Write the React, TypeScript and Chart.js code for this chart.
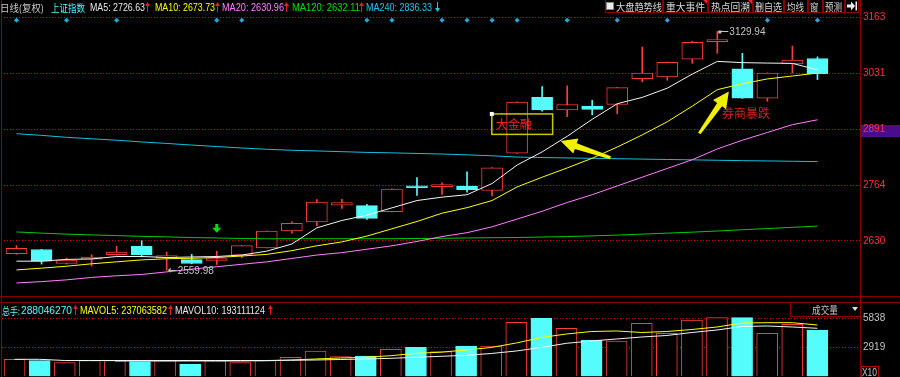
import React, { useEffect, useRef } from 'react';
import { Chart, registerables } from 'chart.js';

Chart.register(...registerables);

// ---------------- data ----------------
const CANDLE_INDEX = [0, 1, 2, 3, 4, 5, 6, 7, 8, 9, 10, 11, 12, 13, 14, 15, 16, 17, 18, 19, 20, 21, 22, 23, 24, 25, 26, 27, 28, 29, 30, 31, 32];
const OPEN = [2599.8, 2609.6, 2576.1, 2586.3, 2597.0, 2617.2, 2590.0, 2585.4, 2583.2, 2596.3, 2613.3, 2653.7, 2675.3, 2715.5, 2714.1, 2700.1, 2758.9, 2759.8, 2760.7, 2750.3, 2839.5, 2972.6, 2942.4, 2951.7, 2955.6, 3017.4, 3021.3, 3063.8, 3105.6, 3040.6, 2970.9, 3052.2, 3065.5];
const HIGH = [2618.8, 2610.0, 2589.3, 2597.0, 2617.2, 2630.5, 2603.3, 2597.9, 2605.6, 2619.5, 2654.0, 2675.3, 2728.7, 2729.4, 2717.1, 2754.5, 2781.4, 2768.9, 2794.9, 2805.0, 2962.0, 2998.1, 3000.4, 2965.6, 2996.5, 3092.6, 3057.0, 3106.6, 3129.94, 3077.8, 3031.0, 3095.0, 3069.4];
const LOW = [2598.0, 2574.7, 2574.7, 2570.1, 2596.0, 2591.7, 2559.98, 2575.5, 2573.8, 2590.0, 2613.0, 2648.6, 2666.7, 2707.8, 2681.1, 2699.5, 2738.7, 2741.0, 2746.6, 2737.3, 2839.0, 2940.0, 2926.8, 2930.8, 2933.5, 3009.7, 3013.7, 3053.8, 3077.8, 2970.0, 2963.3, 3030.6, 3015.1];
const CLOSE = [2612.6, 2581.7, 2584.0, 2591.7, 2603.3, 2597.0, 2593.3, 2576.1, 2584.6, 2618.8, 2653.7, 2672.3, 2722.9, 2721.3, 2683.9, 2753.8, 2757.0, 2761.7, 2752.6, 2804.6, 2961.6, 2942.4, 2955.6, 2944.0, 2995.8, 3030.6, 3056.2, 3104.2, 3108.9, 2970.9, 3030.6, 3061.5, 3029.0];

const MA5 = [2581.7, 2581.7, 2585.9, 2587.0, 2592.8, 2592.8, 2590.5, 2591.7, 2592.8, 2596.3, 2605.6, 2622.6, 2661.3, 2678.8, 2691.5, 2709.0, 2726.4, 2734.5, 2740.3, 2767.0, 2811.1, 2842.5, 2879.7, 2920.3, 2957.5, 2972.6, 2994.6, 3028.3, 3058.5, 3055.5, 3054.5, 3053.8, 3038.3];
const MA10 = [2560.8, 2565.0, 2569.6, 2575.4, 2580.1, 2584.7, 2587.5, 2588.6, 2590.5, 2594.0, 2597.9, 2606.8, 2618.4, 2627.7, 2641.6, 2659.0, 2676.4, 2696.2, 2709.4, 2726.4, 2758.9, 2782.1, 2804.2, 2827.4, 2854.1, 2883.1, 2914.5, 2951.7, 2991.1, 3005.1, 3016.7, 3023.6, 3030.6];
const MA20 = [2529.7, 2532.9, 2537.1, 2542.9, 2546.8, 2549.9, 2556.1, 2562.6, 2568.4, 2574.2, 2580.1, 2588.2, 2596.3, 2602.1, 2610.2, 2618.4, 2628.8, 2640.4, 2649.7, 2663.7, 2682.2, 2700.8, 2721.7, 2740.3, 2761.2, 2782.1, 2803.0, 2823.9, 2849.5, 2870.4, 2888.9, 2907.5, 2919.1];
const MA120 = [2651.4, 2648.6, 2646.2, 2644.4, 2642.8, 2640.9, 2639.7, 2638.1, 2637.0, 2635.8, 2635.1, 2635.3, 2635.3, 2635.3, 2635.3, 2635.3, 2635.8, 2636.3, 2637.0, 2637.7, 2638.1, 2639.3, 2640.4, 2642.1, 2643.9, 2646.2, 2648.6, 2650.9, 2653.7, 2656.7, 2659.5, 2662.5, 2665.3];
const MA240 = [2885.9, 2882.0, 2877.3, 2873.8, 2870.4, 2866.2, 2862.7, 2858.8, 2855.3, 2851.8, 2848.8, 2846.4, 2844.8, 2843.0, 2841.3, 2840.2, 2838.8, 2837.4, 2835.5, 2833.2, 2830.2, 2829.0, 2828.1, 2827.2, 2826.2, 2825.3, 2824.4, 2823.5, 2822.5, 2821.6, 2820.9, 2820.2, 2819.3];

const VOLUME = [1711, 1570, 1369, 1570, 1570, 1470, 1570, 1238, 1570, 1369, 1570, 1913, 2547, 1973, 2043, 2718, 2919, 2476, 3050, 3050, 5436, 5838, 4832, 3654, 3553, 5335, 4328, 5667, 5899, 5899, 4328, 5234, 4661];
const MAVOL5 = [null, null, null, null, 1540, 1540, 1540, 1540, 1540, 1540, 1570, 1641, 1741, 1842, 1913, 2074, 2315, 2426, 2647, 2899, 3352, 3906, 4258, 4510, 4560, 4409, 4510, 4711, 4962, 5365, 5395, 5395, 5164];
const MAVOL10 = [1711, 1711, 1590, 1590, 1590, 1590, 1590, 1590, 1590, 1590, 1590, 1611, 1641, 1691, 1741, 1812, 1913, 2013, 2114, 2295, 2547, 2899, 3322, 3553, 3755, 3956, 4107, 4409, 4661, 5013, 5063, 4963, 4832];

const EVENT_INDEX = [0, 2, 4, 8, 9, 14, 15, 17, 18, 19, 20, 22, 24, 26, 30, 32];
const EVENT_LEVEL = 3156.7;
const SIGNAL_INDEX = 8;
const SIGNAL_TOP = 2670.6;
const SIGNAL_BOTTOM = 2649.7;

const PRICE_TICK_LABELS = ['2630', '2764', '2891', '3031', '3163'];
const PRICE_TICK_START = 2630;
const PRICE_TICK_STEP = 133.25;
const VOL_TICK_LABELS = ['2919', '5838'];
const VOL_TICK_VALUES = [2919, 5838];

// annotation anchors in (index, price)
const NOTE_BOX = { x0: 18.99, y0: 2933.1, x1: 21.42, y1: 2884.3, text: '大金融' };
const NOTE_TEXT = { x: 28.19, y: 2935.4, text: '券商暴跌' };
const NOTE_ARROWS = [
  { fx: 23.73, fy: 2828.6, tx: 21.74, ty: 2868.7 },
  { fx: 27.28, fy: 2886.6, tx: 28.46, ty: 2986.5 },
];

// ---------------- style ----------------
const UP = '#ff3b3b';
const DOWN = '#54fcfc';
const FRAME = '#8a0000';
const GRID = '#d00000';
const FONT_LATIN = "'Liberation Sans', 'Noto Sans CJK SC', sans-serif";
const FONT_CJK = "'Noto Sans CJK SC', sans-serif";

let measureCtx: CanvasRenderingContext2D | null = null;
function textWidth(text: string, font: string) {
  if (!measureCtx) measureCtx = document.createElement('canvas').getContext('2d');
  if (!measureCtx) return 1;
  measureCtx.font = font;
  return measureCtx.measureText(text).width || 1;
}

function Label(props: { x: number; cy: number; text: string; color: string; size?: number; family?: string; w?: number }) {
  const size = props.size ?? 10.5;
  const family = props.family ?? FONT_LATIN;
  const font = `${size}px ${family}`;
  const sx = props.w ? props.w / textWidth(props.text, font) : 1;
  const lh = Math.round(size * 1.25);
  return (
    <span
      style={{
        position: 'absolute',
        left: props.x,
        top: props.cy - lh / 2,
        font,
        lineHeight: `${lh}px`,
        color: props.color,
        whiteSpace: 'nowrap',
        transform: `scaleX(${sx})`,
        transformOrigin: 'left center',
      }}
    >
      {props.text}
    </span>
  );
}

function TrendArrow(props: { x: number; cy: number; color: string; down?: boolean }) {
  return (
    <svg style={{ position: 'absolute', left: props.x - 2.5, top: props.cy - 5 }} width={5} height={10}>
      {props.down ? (
        <>
          <rect x={2} y={0} width={1} height={8} fill={props.color} />
          <polygon points="0,6 5,6 2.5,10" fill={props.color} />
        </>
      ) : (
        <>
          <polygon points="0,4 5,4 2.5,0" fill={props.color} />
          <rect x={2} y={2} width={1} height={8} fill={props.color} />
        </>
      )}
    </svg>
  );
}

const PRICE_HEADER = [
  { x: 0, w: 44, text: '日线(复权)', color: '#c8c8c8', family: FONT_CJK, size: 10 },
  { x: 51, w: 34, text: '上证指数', color: '#54fcfc', family: FONT_CJK, size: 10 },
  { x: 90, w: 55, text: 'MA5: 2726.63', color: '#e8e8e8' },
  { x: 155, w: 60, text: 'MA10: 2673.73', color: '#ffff00' },
  { x: 222, w: 62, text: 'MA20: 2630.96', color: '#ff80ff' },
  { x: 292, w: 68, text: 'MA120: 2632.11', color: '#00e000' },
  { x: 366, w: 66, text: 'MA240: 2836.33', color: '#1ec8e8' },
];
const PRICE_HEADER_ARROWS = [
  { x: 147, color: '#e02020', down: false },
  { x: 217, color: '#e02020', down: false },
  { x: 286, color: '#e02020', down: false },
  { x: 361.5, color: '#e02020', down: false },
  { x: 437, color: '#1ec8e8', down: true },
];
const VOL_HEADER = [
  { x: 2, w: 18, text: '总手:', color: '#54fcfc', family: FONT_CJK, size: 10 },
  { x: 21, w: 51, text: '288046270', color: '#54fcfc' },
  { x: 80, w: 87, text: 'MAVOL5: 237063582', color: '#ffff00' },
  { x: 175, w: 90, text: 'MAVOL10: 193111124', color: '#e8e8e8' },
];
const VOL_HEADER_ARROWS = [75, 170, 270];
const TOOL_BOXES = [
  [605, 663], [663, 708], [708, 753], [753, 784], [784, 808], [808, 823], [823, 845], [845, 859],
];
const TOOL_TEXT = [
  { x: 616, w: 46, text: '大盘趋势线' },
  { x: 666, w: 39, text: '重大事件' },
  { x: 711, w: 39, text: '热点回溯' },
  { x: 754.5, w: 27, text: '删自选' },
  { x: 787, w: 17, text: '均线' },
  { x: 810, w: 8.5, text: '窗' },
  { x: 824.5, w: 17, text: '预测' },
];

function drawArrow(ctx: CanvasRenderingContext2D, x0: number, y0: number, x1: number, y1: number) {
  const dx = x1 - x0, dy = y1 - y0;
  const len = Math.hypot(dx, dy);
  const ux = dx / len, uy = dy / len;
  const nx = -uy, ny = ux;
  const headLen = 16, headHalf = 8, neckHalf = 3, tailHalf = 1.5;
  const cx = x1 - ux * headLen, cy = y1 - uy * headLen;
  ctx.beginPath();
  ctx.moveTo(x0 + nx * tailHalf, y0 + ny * tailHalf);
  ctx.lineTo(cx + nx * neckHalf, cy + ny * neckHalf);
  ctx.lineTo(cx + nx * headHalf, cy + ny * headHalf);
  ctx.lineTo(x1, y1);
  ctx.lineTo(cx - nx * headHalf, cy - ny * headHalf);
  ctx.lineTo(cx - nx * neckHalf, cy - ny * neckHalf);
  ctx.lineTo(x0 - nx * tailHalf, y0 - ny * tailHalf);
  ctx.closePath();
  ctx.fill();
}

const annotationPlugin = {
  id: 'klineNotes',
  afterDatasetsDraw(chart: any) {
    const { ctx } = chart;
    const xs = chart.scales.x, ys = chart.scales.y;
    const X = (v: number) => xs.getPixelForValue(v);
    const Y = (v: number) => ys.getPixelForValue(v);
    ctx.save();

    let hi = 0, lo = 0;
    HIGH.forEach((v, i) => { if (v > HIGH[hi]) hi = i; });
    LOW.forEach((v, i) => { if (v < LOW[lo]) lo = i; });
    ctx.font = `10px ${FONT_LATIN}`;
    ctx.textBaseline = 'middle';
    ctx.fillStyle = '#c4c4c4';
    ctx.strokeStyle = '#c4c4c4';
    ctx.lineWidth = 1;
    const hx = X(hi), hy = Y(HIGH[hi]);
    ctx.fillRect(hx + 1, hy - 1, 3, 3);
    ctx.beginPath();
    ctx.moveTo(hx + 3, Math.round(hy) + 0.5);
    ctx.lineTo(hx + 11, Math.round(hy) + 0.5);
    ctx.stroke();
    ctx.fillText(HIGH[hi].toFixed(2), hx + 12, hy + 0.5);

    const lx = X(lo), ly = Y(LOW[lo]);
    ctx.beginPath();
    ctx.moveTo(lx + 1, ly);
    ctx.lineTo(lx + 4, ly - 2.5);
    ctx.lineTo(lx + 4, ly + 2.5);
    ctx.closePath();
    ctx.fill();
    ctx.beginPath();
    ctx.moveTo(lx + 4, Math.round(ly) + 0.5);
    ctx.lineTo(lx + 10, Math.round(ly) + 0.5);
    ctx.stroke();
    ctx.fillText(LOW[lo].toFixed(2), lx + 11, ly + 0.5);

    const bx0 = X(NOTE_BOX.x0), bx1 = X(NOTE_BOX.x1);
    const by0 = Y(NOTE_BOX.y0), by1 = Y(NOTE_BOX.y1);
    ctx.strokeStyle = '#c8c800';
    ctx.lineWidth = 1.5;
    ctx.strokeRect(bx0, by0, bx1 - bx0, by1 - by0);
    ctx.fillStyle = '#ffffff';
    ctx.fillRect(bx0 - 2, by0 - 2, 4, 4);
    ctx.fillStyle = '#ff2020';
    ctx.font = `12px ${FONT_CJK}`;
    ctx.textBaseline = 'middle';
    ctx.fillText(NOTE_BOX.text, bx0 + 4, (by0 + by1) / 2);

    ctx.fillStyle = '#d82020';
    ctx.fillText(NOTE_TEXT.text, X(NOTE_TEXT.x), Y(NOTE_TEXT.y));

    ctx.fillStyle = '#f0f000';
    NOTE_ARROWS.forEach((a) => drawArrow(ctx, X(a.fx), Y(a.fy), X(a.tx), Y(a.ty)));

    const gx = X(SIGNAL_INDEX), gt = Y(SIGNAL_TOP), gb = Y(SIGNAL_BOTTOM);
    const mid = gt + (gb - gt) * 0.45;
    ctx.fillStyle = '#00e000';
    ctx.beginPath();
    ctx.moveTo(gx - 1.5, gt);
    ctx.lineTo(gx + 1.5, gt);
    ctx.lineTo(gx + 1.5, mid);
    ctx.lineTo(gx + 4.5, mid);
    ctx.lineTo(gx, gb);
    ctx.lineTo(gx - 4.5, mid);
    ctx.lineTo(gx - 1.5, mid);
    ctx.closePath();
    ctx.fill();

    ctx.restore();
  },
};

function fixedAxis(s: any) {
  s.width = 40;
  s.paddingTop = 0;
  s.paddingBottom = 0;
}

export default function App() {
  const priceRef = useRef<HTMLCanvasElement>(null);
  const volRef = useRef<HTMLCanvasElement>(null);

  useEffect(() => {
    const up = CANDLE_INDEX.map((i) => CLOSE[i] >= OPEN[i]);
    const colors = up.map((u) => (u ? UP : DOWN));
    const pts = (arr: (number | null)[]) => CANDLE_INDEX.map((i) => ({ x: i, y: arr[i] }));
    const lineDs = (label: string, arr: (number | null)[], color: string, order: number) => ({
      type: 'line' as const,
      label,
      data: pts(arr),
      borderColor: color,
      backgroundColor: color,
      borderWidth: 1,
      pointRadius: 0,
      tension: 0,
      order,
    });
    const xScale = { type: 'linear' as const, min: -0.5, max: 33.7, display: false, offset: false, grid: { display: false } };

    const price = new Chart(priceRef.current!, {
      type: 'bar',
      data: {
        datasets: [
          {
            type: 'line',
            label: 'events',
            data: EVENT_INDEX.map((i) => ({ x: i, y: EVENT_LEVEL })),
            showLine: false,
            pointStyle: 'rectRot',
            pointRadius: 2.6,
            pointBackgroundColor: '#28a4e0',
            pointBorderWidth: 0,
            order: 0,
          } as any,
          lineDs('MA5', MA5, '#f4f4f4', 1),
          lineDs('MA10', MA10, '#ffff00', 2),
          lineDs('MA20', MA20, '#ff80ff', 3),
          lineDs('MA120', MA120, '#00cc00', 4),
          lineDs('MA240', MA240, '#14c0e0', 5),
          {
            type: 'bar',
            label: 'body',
            data: CANDLE_INDEX.map((i) => ({ x: i, y: [OPEN[i], CLOSE[i]] })),
            backgroundColor: up.map((u) => (u ? '#000000' : DOWN)),
            borderColor: colors,
            borderWidth: 1,
            borderSkipped: false,
            barThickness: 21,
            minBarLength: 2,
            grouped: false,
            order: 8,
          } as any,
          {
            type: 'bar',
            label: 'wick',
            data: CANDLE_INDEX.map((i) => ({ x: i, y: [LOW[i], HIGH[i]] })),
            backgroundColor: colors,
            borderWidth: 0,
            barThickness: 1,
            grouped: false,
            order: 9,
          } as any,
        ],
      },
      options: {
        responsive: false,
        animation: false,
        events: [],
        layout: { padding: { left: 2, right: 0, top: 0, bottom: 0 } },
        plugins: { legend: { display: false }, tooltip: { enabled: false } },
        scales: {
          x: xScale,
          y: {
            position: 'right',
            min: 2508.1,
            max: 3195.5,
            afterFit: fixedAxis,
            afterBuildTicks: (s: any) => {
              s.ticks = PRICE_TICK_LABELS.map((_, k) => ({ value: PRICE_TICK_START + k * PRICE_TICK_STEP }));
            },
            ticks: {
              callback: (_v: any, k: number) => PRICE_TICK_LABELS[k],
              color: '#ff3434',
              font: { family: 'Liberation Sans', size: 10 },
              padding: 3,
            },
            grid: { color: GRID, lineWidth: 1, drawTicks: false },
            border: { display: false, dash: [1, 2] },
          } as any,
        },
      },
      plugins: [annotationPlugin],
    });

    const vol = new Chart(volRef.current!, {
      type: 'bar',
      data: {
        datasets: [
          lineDs('MAVOL10', MAVOL10, '#f4f4f4', 1),
          lineDs('MAVOL5', MAVOL5, '#ffff00', 2),
          {
            type: 'bar',
            label: 'volume',
            data: CANDLE_INDEX.map((i) => ({ x: i, y: VOLUME[i] })),
            backgroundColor: up.map((u) => (u ? '#000000' : DOWN)),
            borderColor: colors,
            borderWidth: 1,
            borderSkipped: 'start',
            barThickness: 21,
            grouped: false,
            order: 8,
          } as any,
        ],
      },
      options: {
        responsive: false,
        animation: false,
        events: [],
        layout: { padding: { left: 2, right: 0, top: 15, bottom: 0 } },
        plugins: { legend: { display: false }, tooltip: { enabled: false } },
        scales: {
          x: xScale,
          y: {
            position: 'right',
            min: -70.5,
            max: 5968.9,
            afterFit: fixedAxis,
            afterBuildTicks: (s: any) => {
              s.ticks = VOL_TICK_VALUES.map((v) => ({ value: v }));
            },
            ticks: {
              callback: (_v: any, k: number) => VOL_TICK_LABELS[k],
              color: '#c4c4c4',
              font: { family: 'Liberation Sans', size: 10 },
              padding: 3,
            },
            grid: { color: GRID, lineWidth: 1, drawTicks: false },
            border: { display: false, dash: [1, 2] },
          } as any,
        },
      },
    });

    return () => {
      price.destroy();
      vol.destroy();
    };
  }, []);

  const hline = (y: number, x0: number, x1: number, color = FRAME) => (
    <div style={{ position: 'absolute', left: x0, top: y, width: x1 - x0, height: 1, background: color }} />
  );
  const vline = (x: number, y0: number, y1: number, color = FRAME) => (
    <div style={{ position: 'absolute', left: x, top: y0, width: 1, height: y1 - y0, background: color }} />
  );

  return (
    <div style={{ position: 'fixed', left: 0, top: 0, width: 900, height: 377, background: '#000', overflow: 'hidden' }}>
      <div style={{ position: 'absolute', left: 861, top: 125, width: 39, height: 12, background: '#4a0c8a' }} />
      <canvas ref={priceRef} width={900} height={296} style={{ position: 'absolute', left: 0, top: 0, width: 900, height: 296 }} />
      <canvas ref={volRef} width={900} height={75} style={{ position: 'absolute', left: 0, top: 302, width: 900, height: 75 }} />

      {vline(1, 0, 377)}
      {vline(860, 0, 377)}
      {hline(296, 0, 900)}
      {hline(302, 0, 900)}

      {PRICE_HEADER.map((h, k) => (
        <Label key={'ph' + k} x={h.x} cy={7} text={h.text} color={h.color} w={h.w} family={h.family} size={h.size} />
      ))}
      {PRICE_HEADER_ARROWS.map((a, k) => (
        <TrendArrow key={'pa' + k} x={a.x} cy={7} color={a.color} down={a.down} />
      ))}

      {TOOL_BOXES.map(([a, b], k) => (
        <div key={'tb' + k} style={{ position: 'absolute', left: a, top: -1, width: b - a, height: 14, border: `1px solid ${FRAME}`, boxSizing: 'border-box' }} />
      ))}
      <div style={{ position: 'absolute', left: 606, top: 2, width: 8, height: 8, background: '#ececec', border: '1px solid #888', boxSizing: 'border-box' }} />
      {[707, 752].map((x, k) => (
        <div key={'tri' + k} style={{ position: 'absolute', left: x - 4, top: 0, width: 0, height: 0, borderTop: '4px solid #ff2020', borderLeft: '4px solid transparent' }} />
      ))}
      {TOOL_TEXT.map((t, k) => (
        <Label key={'tt' + k} x={t.x} cy={6} text={t.text} color="#d8d8d8" w={t.w} family={FONT_CJK} size={10} />
      ))}
      <svg style={{ position: 'absolute', left: 847, top: 1 }} width={11} height={10}>
        <polygon points="0,3.5 4,3.5 4,0.5 8,5 4,9.5 4,6.5 0,6.5" fill="#f0f0f0" />
        <rect x={8.5} y={0.5} width={1.5} height={9} fill="#f0f0f0" />
      </svg>

      {VOL_HEADER.map((h, k) => (
        <Label key={'vh' + k} x={h.x} cy={310} text={h.text} color={h.color} w={h.w} family={h.family} size={h.size ?? 10.5} />
      ))}
      {VOL_HEADER_ARROWS.map((x, k) => (
        <TrendArrow key={'va' + k} x={x} cy={310} color="#e02020" />
      ))}
      {vline(790, 302, 317)}
      {hline(316, 790, 860)}
      <Label x={812} cy={309.5} text="成交量" color="#c4c4c4" w={26} family={FONT_CJK} size={10} />
      <div style={{ position: 'absolute', left: 852, top: 307, width: 0, height: 0, borderTop: '4px solid #e0e0e0', borderLeft: '3px solid transparent', borderRight: '3px solid transparent' }} />

      <div style={{ position: 'absolute', left: 861, top: 366, width: 18, height: 12, border: '1px solid #b00000', boxSizing: 'border-box' }} />
      <Label x={862} cy={372} text="X10" color="#c4c4c4" size={10} w={15} />
    </div>
  );
}
